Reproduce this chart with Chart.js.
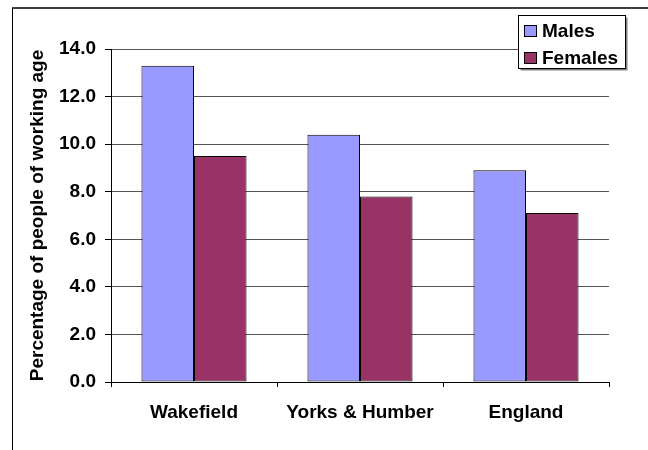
<!DOCTYPE html>
<html>
<head>
<meta charset="utf-8">
<script src="https://cdn.jsdelivr.net/npm/chart.js@4/dist/chart.umd.min.js"></script>
<style>
  html, body { margin: 0; padding: 0; background: #fff; }
  #wrap { width: 648px; height: 450px; }
</style>
</head>
<body>
<div id="wrap"><canvas id="myChart" width="648" height="450"></canvas></div>
<script>
var areas = ["Wakefield", "Yorks & Humber", "England"];
var males = [13.3, 10.4, 8.9];
var females = [9.5, 7.8, 7.1];
var seriesNames = ["Males", "Females"];
var seriesColors = ["#9999ff", "#993366"];

var fontFamily = "'Liberation Sans', Arial, sans-serif";

// outer frame lines (top and left edge of the chart box)
var framePlugin = {
  id: 'frame',
  beforeDraw: function (chart) {
    var c = chart.ctx;
    c.save();
    c.fillStyle = '#ffffff';
    c.fillRect(0, 0, chart.width, chart.height);
    c.strokeStyle = '#404040';
    c.lineWidth = 2;
    c.beginPath();
    c.moveTo(12, 8);
    c.lineTo(chart.width, 8);
    c.stroke();
    c.strokeStyle = '#000000';
    c.lineWidth = 1;
    c.beginPath();
    c.moveTo(12.5, 8);
    c.lineTo(12.5, chart.height);
    c.stroke();
    c.restore();
  }
};

// boxed legend sitting over the top right corner of the plot
var legendBox = {
  id: 'legendBox',
  afterDraw: function (chart) {
    var c = chart.ctx;
    var x = 518.5, y = 15.5, w = 107, h = 53;
    c.save();
    c.fillStyle = '#808080';
    c.fillRect(x + 2, y + 2, w, h);
    c.fillStyle = '#ffffff';
    c.fillRect(x, y, w, h);
    c.strokeStyle = '#000000';
    c.lineWidth = 1;
    c.strokeRect(x, y, w, h);
    c.font = 'bold 19px ' + fontFamily;
    c.textBaseline = 'middle';
    chart.data.datasets.forEach(function (ds, i) {
      var cy = 31 + i * 27;
      c.fillStyle = ds.backgroundColor;
      c.fillRect(524.5, cy - 5.5, 12, 11);
      c.strokeRect(524.5, cy - 5.5, 12, 11);
      c.fillStyle = '#000000';
      c.fillText(ds.label, 542, cy + 1);
    });
    c.restore();
  }
};

var ctx = document.getElementById('myChart').getContext('2d');

new Chart(ctx, {
  type: 'bar',
  data: {
    labels: areas,
    datasets: [{
        label: seriesNames[0],
        data: males,
        backgroundColor: seriesColors[0],
        borderColor: '#000000',
        borderWidth: 1,
        borderSkipped: false
      },
      {
        label: seriesNames[1],
        data: females,
        backgroundColor: seriesColors[1],
        borderColor: '#000000',
        borderWidth: 1,
        borderSkipped: false
      }
    ]
  },
  plugins: [framePlugin, legendBox],
  options: {
    responsive: false,
    animation: false,
    devicePixelRatio: 1,
    categoryPercentage: 0.633,
    barPercentage: 1.0,
    layout: {
      padding: { top: 49, right: 39, bottom: 0, left: 0 }
    },
    plugins: {
      legend: { display: false },
      tooltip: { enabled: false }
    },
    scales: {
      y: {
        min: 0,
        max: 14,
        afterFit: function (scale) { scale.width = 111; },
        border: { color: '#000000', width: 1 },
        grid: {
          color: '#555555',
          tickColor: '#000000',
          tickLength: 6,
          drawTicks: true
        },
        ticks: {
          stepSize: 2,
          padding: 9,
          color: '#000000',
          font: { size: 19, weight: 'bold', family: fontFamily },
          callback: function (v) { return v.toFixed(1); }
        },
        title: {
          display: true,
          text: 'Percentage of people of working age',
          color: '#000000',
          padding: { top: 26, bottom: 0 },
          font: { size: 19, weight: 'bold', family: fontFamily }
        }
      },
      x: {
        afterFit: function (scale) { scale.height = 68; },
        border: { color: '#000000', width: 1 },
        grid: {
          offset: true,
          drawOnChartArea: false,
          drawTicks: true,
          tickLength: 5,
          tickColor: '#000000'
        },
        ticks: {
          padding: 14,
          color: '#000000',
          maxRotation: 0,
          font: { size: 19, weight: 'bold', family: fontFamily }
        }
      }
    }
  }
});
</script>
</body>
</html>
